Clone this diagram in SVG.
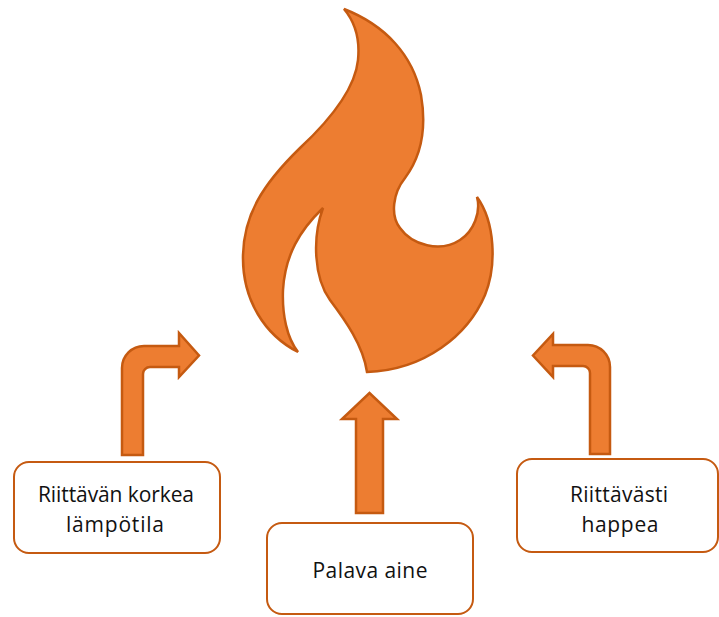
<svg xmlns="http://www.w3.org/2000/svg" width="719" height="617" viewBox="0 0 719 617">
<style>
.shape{fill:#ED7D31;stroke:#C55A11;stroke-width:2.5;stroke-linejoin:miter}
.box{fill:#FFFFFF;stroke:#C55A11;stroke-width:2}
.lbl{font-family:"Open Sans","Noto Sans",sans-serif;font-size:21px;fill:#111111;text-anchor:middle}
</style>
<rect width="719" height="617" fill="#FFFFFF"/>
<g id="flame">
<path class="shape" d="M 344 9 C 385 25 413 55 421 95 C 427 130 420 158 405 178 C 393 193 390 215 400 228 C 412 245 440 253 460 240 C 474 231 481 212 477 197 C 495 222 497 265 485 295 C 468 335 425 370 367 372 C 363 345 345 320 330 300 C 314 278 312 238 323 208 C 300 230 285 255 283 290 C 282 315 287 338 298 352 C 265 335 242 300 243 255 C 244 215 262 185 300 148 C 330 120 355 90 358 60 C 360 40 355 22 344 9 Z"/>
</g>
<g id="connectors">
<path id="arrow-left" class="shape" stroke-width="2" d="M 122 455 L 122 368 A 22 22 0 0 1 144 346 L 179 346 L 179 333 L 199 355.5 L 179 377 L 179 367 L 150 367 A 7 7 0 0 0 143 374 L 143 455 Z"/>
<path id="arrow-middle" class="shape" stroke-width="2" d="M 356 513 L 356 419 L 342 419 L 369.5 393 L 397 419 L 383 419 L 383 513 Z"/>
<path id="arrow-right" class="shape" stroke-width="2" d="M 610 454 L 610 367 A 22 22 0 0 0 588 345 L 553 345 L 553 334 L 533 355.5 L 553 377 L 553 366 L 583 366 A 7 7 0 0 1 590 373 L 590 454 Z"/>
</g>
<g id="node-temperature">
<rect class="box" x="14" y="462" width="206" height="91" rx="15" ry="15"/>
<text class="lbl" x="116" y="502" textLength="156" lengthAdjust="spacing">Riittävän korkea</text>
<text class="lbl" x="115" y="532" textLength="98" lengthAdjust="spacing">lämpötila</text>
</g>
<g id="node-fuel">
<rect class="box" x="267" y="523" width="206" height="91" rx="15" ry="15"/>
<text class="lbl" x="370" y="578" textLength="115" lengthAdjust="spacing">Palava aine</text>
</g>
<g id="node-oxygen">
<rect class="box" x="517" y="459" width="201" height="93" rx="15" ry="15"/>
<text class="lbl" x="619" y="502" textLength="98" lengthAdjust="spacing">Riittävästi</text>
<text class="lbl" x="620" y="532" textLength="77" lengthAdjust="spacing">happea</text>
</g>
</svg>
